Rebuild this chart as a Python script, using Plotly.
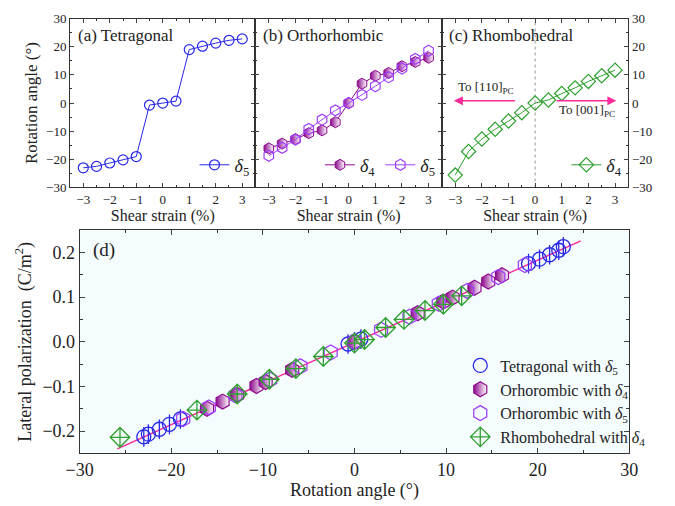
import plotly.graph_objects as go

# ---------------- data ----------------
strain = [-3, -2.5, -2, -1.5, -1, -0.5, 0, 0.5, 1, 1.5, 2, 2.5, 3]
tet_d5 = [-23.0, -22.5, -21.3, -20.2, -19.0, -0.7, 0.0, 0.7, 19.0, 20.2, 21.3, 22.3, 22.8]
orth_d4 = [-16.1, -14.4, -12.8, -10.7, -9.7, -6.8, 0.0, 6.9, 9.7, 10.7, 13.1, 14.6, 16.1]
orth_d5 = [-18.7, -15.9, -13.0, -9.2, -5.9, -2.6, 0.0, 2.9, 6.0, 9.2, 12.3, 15.7, 18.6]
rhom_d4 = [-25.6, -17.2, -12.8, -9.3, -6.4, -3.4, 0.0, 1.1, 3.4, 5.4, 7.7, 9.7, 11.7]

pol_tet_d5 = [-0.213, -0.207, -0.196, -0.185, -0.173, -0.005, 0.0, 0.006, 0.175, 0.185, 0.195, 0.205, 0.213]
pol_orth_d4 = [-0.150, -0.134, -0.119, -0.099, -0.090, -0.063, 0.0, 0.064, 0.090, 0.099, 0.121, 0.135, 0.149]
pol_orth_d5 = [-0.173, -0.147, -0.120, -0.085, -0.055, -0.024, 0.0, 0.027, 0.056, 0.085, 0.114, 0.145, 0.172]
pol_rhom_d4 = [-0.214, -0.153, -0.117, -0.084, -0.060, -0.033, -0.003, 0.005, 0.032, 0.050, 0.070, 0.084, 0.103]

fit_x = [-25.9, 24.7]
fit_y = [-0.240, 0.226]

BLUE = "#2828E8"
PURPLE = "#8E0A8E"
VIOLET = "#A040FF"
GREEN = "#2FA02F"
PINK = "#FF2A9A"
FONT = "Liberation Serif"

fig = go.Figure()

# ---- top panels ----
fig.add_trace(go.Scatter(x=strain, y=tet_d5, mode="lines+markers", name="<i>δ</i><sub>5</sub>",
                         line=dict(color=BLUE, width=1),
                         marker=dict(symbol="circle-open", size=10, color=BLUE, line=dict(width=1.2)),
                         xaxis="x", yaxis="y", legend="legend"))
fig.add_trace(go.Scatter(x=strain, y=orth_d4, mode="lines+markers", name="<i>δ</i><sub>4</sub>",
                         line=dict(color=PURPLE, width=1),
                         marker=dict(symbol="hexagon", size=11, color=PURPLE,
                                     gradient=dict(type="horizontal", color="white"),
                                     line=dict(width=1, color=PURPLE)),
                         xaxis="x2", yaxis="y2", legend="legend2"))
fig.add_trace(go.Scatter(x=strain, y=orth_d5, mode="lines+markers", name="<i>δ</i><sub>5</sub>",
                         line=dict(color=VIOLET, width=1),
                         marker=dict(symbol="hexagon-open", size=11, color=VIOLET, line=dict(width=1.2)),
                         xaxis="x2", yaxis="y2", legend="legend2"))
fig.add_trace(go.Scatter(x=strain, y=rhom_d4, mode="lines+markers", name="<i>δ</i><sub>4</sub>",
                         line=dict(color=GREEN, width=1),
                         marker=dict(symbol="diamond-open", size=11, color=GREEN, line=dict(width=1.2)),
                         xaxis="x3", yaxis="y3", legend="legend3"))

# ---- panel d ----
fig.add_trace(go.Scatter(x=fit_x, y=fit_y, mode="lines", line=dict(color=PINK, width=1.5),
                         showlegend=False, xaxis="x4", yaxis="y4"))
fig.add_trace(go.Scatter(x=tet_d5, y=pol_tet_d5, mode="markers", name="Tetragonal with <i>δ</i><sub>5</sub>",
                         marker=dict(symbol="circle-open", size=14, color=BLUE, line=dict(width=1.3)),
                         xaxis="x4", yaxis="y4", legend="legend4"))
fig.add_trace(go.Scatter(x=tet_d5, y=pol_tet_d5, mode="markers", showlegend=False,
                         marker=dict(symbol="line-ns-open", size=14, color=BLUE, line=dict(width=1.3, color=BLUE)),
                         xaxis="x4", yaxis="y4"))
fig.add_trace(go.Scatter(x=orth_d4, y=pol_orth_d4, mode="markers", name="Orhorombic with <i>δ</i><sub>4</sub>",
                         marker=dict(symbol="hexagon", size=15, color=PURPLE,
                                     gradient=dict(type="horizontal", color="white"),
                                     line=dict(width=1.2, color=PURPLE)),
                         xaxis="x4", yaxis="y4", legend="legend4"))
fig.add_trace(go.Scatter(x=orth_d5, y=pol_orth_d5, mode="markers", name="Orhorombic with <i>δ</i><sub>5</sub>",
                         marker=dict(symbol="hexagon-open", size=15, color=VIOLET, line=dict(width=1.3)),
                         xaxis="x4", yaxis="y4", legend="legend4"))
fig.add_trace(go.Scatter(x=rhom_d4, y=pol_rhom_d4, mode="markers", name="Rhombohedral with <i>δ</i><sub>4</sub>",
                         marker=dict(symbol="diamond-cross-open", size=15, color=GREEN, line=dict(width=1.3)),
                         xaxis="x4", yaxis="y4", legend="legend4"))

W, H = 675, 506
def px(x): return x / W
def py(y): return 1 - y / H

top_y = [py(186), py(12)]
axcol = "#333333"
common_x = dict(range=[-3.5, 3.5], dtick=1, tick0=-3, ticks="inside", ticklen=4, mirror="ticks",
                showline=True, linecolor=axcol, linewidth=1, showgrid=False, zeroline=False,
                tickfont=dict(family=FONT, size=13, color="#222"),
                minor=dict(dtick=0.5, ticks="inside", ticklen=2, tickcolor=axcol),
                title=dict(text="Shear strain (%)", font=dict(family=FONT, size=16, color="#222"), standoff=3))
common_y = dict(range=[-30, 30], dtick=10, ticks="inside", ticklen=4, mirror="ticks",
                showline=True, linecolor=axcol, linewidth=1, showgrid=False, zeroline=False,
                tickfont=dict(family=FONT, size=13, color="#222"),
                minor=dict(dtick=5, ticks="inside", ticklen=2, tickcolor=axcol))

fig.update_layout(
    width=W, height=H, margin=dict(l=0, r=0, t=0, b=0),
    paper_bgcolor="white", plot_bgcolor="white",
    font=dict(family=FONT, color="#222"),
    xaxis=dict(common_x, domain=[px(58), px(250)], anchor="y"),
    xaxis2=dict(common_x, domain=[px(250), px(443)], anchor="y2"),
    xaxis3=dict(common_x, domain=[px(443), px(636)], anchor="y3"),
    yaxis=dict(common_y, domain=top_y, anchor="x",
               title=dict(text="Rotation angle (°)", font=dict(family=FONT, size=17, color="#222"), standoff=4)),
    yaxis2=dict(common_y, domain=top_y, anchor="x2", showticklabels=False),
    yaxis3=dict(common_y, domain=top_y, anchor="x3", side="right"),
    xaxis4=dict(domain=[px(68), px(637)], anchor="y4", range=[-30, 30], dtick=10,
                ticks="inside", ticklen=5, mirror="ticks", showline=True, linecolor=axcol, linewidth=1,
                showgrid=False, zeroline=False,
                tickfont=dict(family=FONT, size=18, color="#222"),
                minor=dict(dtick=5, ticks="inside", ticklen=3, tickcolor=axcol),
                title=dict(text="Rotation angle (°)", font=dict(family=FONT, size=18, color="#222"), standoff=2)),
    yaxis4=dict(domain=[py(460), py(230)], anchor="x4", range=[-0.25, 0.25], dtick=0.1,
                tickformat=".1f", ticks="inside", ticklen=5, mirror="ticks", showline=True,
                linecolor=axcol, linewidth=1, showgrid=False, zeroline=False,
                tickfont=dict(family=FONT, size=18, color="#222"),
                minor=dict(dtick=0.05, ticks="inside", ticklen=3, tickcolor=axcol),
                title=dict(text="Lateral polarization  (C/m<sup>2</sup>)",
                           font=dict(family=FONT, size=18, color="#222"), standoff=6)),
    legend=dict(x=px(249), y=py(182), xanchor="right", yanchor="bottom", bgcolor="rgba(0,0,0,0)",
                font=dict(family=FONT, size=18), itemwidth=30, tracegroupgap=0),
    legend2=dict(x=px(442), y=py(182), xanchor="right", yanchor="bottom", orientation="h",
                 bgcolor="rgba(0,0,0,0)", font=dict(family=FONT, size=18), itemwidth=30),
    legend3=dict(x=px(635), y=py(182), xanchor="right", yanchor="bottom", bgcolor="rgba(0,0,0,0)",
                 font=dict(family=FONT, size=18), itemwidth=30),
    legend4=dict(x=px(462), y=py(352), xanchor="left", yanchor="top", bgcolor="rgba(0,0,0,0)",
                 font=dict(family=FONT, size=16), itemwidth=30, tracegroupgap=2),
)

# plot background for panel d
fig.add_shape(type="rect", xref="x4 domain", yref="y4 domain", x0=0, x1=1, y0=0, y1=1,
              fillcolor="#F4FCFD", line=dict(width=0), layer="below")

# dotted zero line in panel c
fig.add_shape(type="line", xref="x3", yref="y3 domain", x0=0, x1=0, y0=0, y1=1,
              line=dict(color="#999999", width=1, dash="dot"), layer="below")

annos = [
    dict(text="(a) Tetragonal", x=0.03, y=0.97, xref="x domain", yref="y domain"),
    dict(text="(b) Orthorhombic", x=0.03, y=0.97, xref="x2 domain", yref="y2 domain"),
    dict(text="(c) Rhombohedral", x=0.03, y=0.97, xref="x3 domain", yref="y3 domain"),
    dict(text="(d)", x=0.02, y=0.97, xref="x4 domain", yref="y4 domain", size=19),
]
for a in annos:
    fig.add_annotation(text=a["text"], x=a["x"], y=a["y"], xref=a["xref"], yref=a["yref"],
                       xanchor="left", yanchor="top", showarrow=False,
                       font=dict(family=FONT, size=a.get("size", 17), color="#222"))

# arrows in panel c
fig.add_annotation(x=-3.05, y=0.8, ax=-0.7, ay=0.8, xref="x3", yref="y3", axref="x3", ayref="y3",
                   showarrow=True, arrowhead=2, arrowsize=1.2, arrowwidth=1.5, arrowcolor=PINK, text="")
fig.add_annotation(x=3.05, y=0.8, ax=0.75, ay=0.8, xref="x3", yref="y3", axref="x3", ayref="y3",
                   showarrow=True, arrowhead=2, arrowsize=1.2, arrowwidth=1.5, arrowcolor=PINK, text="")
fig.add_annotation(text="To [110]<sub>PC</sub>", x=-1.85, y=5.5, xref="x3", yref="y3", showarrow=False,
                   font=dict(family=FONT, size=13, color="#222"))
fig.add_annotation(text="To [001]<sub>PC</sub>", x=1.95, y=-2.5, xref="x3", yref="y3", showarrow=False,
                   font=dict(family=FONT, size=13, color="#222"))

fig.write_html("out.html")
